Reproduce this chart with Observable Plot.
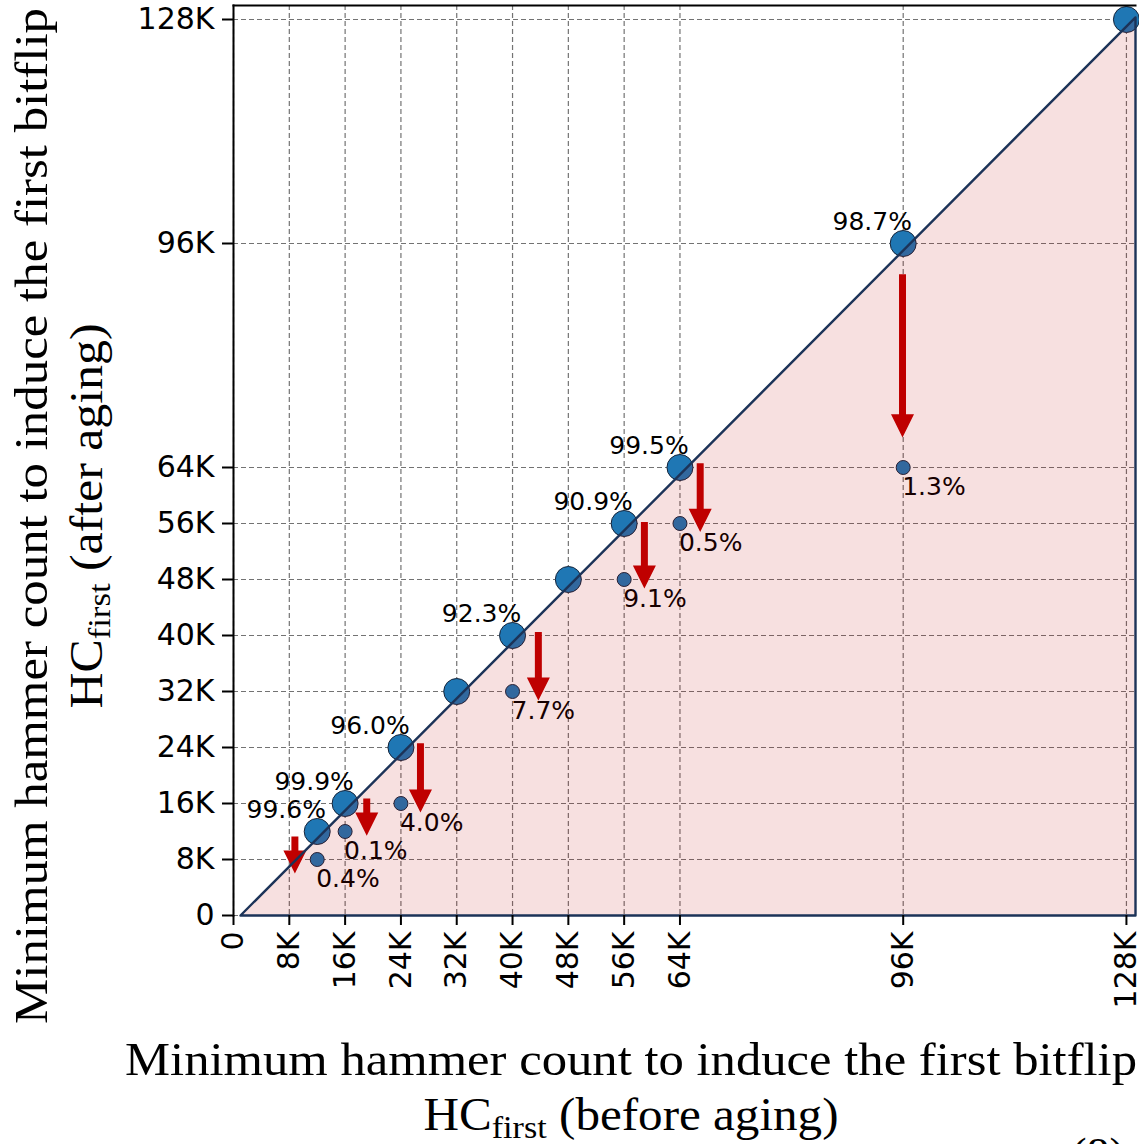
<!DOCTYPE html>
<html>
<head>
<meta charset="utf-8">
<script src="https://cdn.jsdelivr.net/npm/d3@7"></script>
<script src="https://cdn.jsdelivr.net/npm/@observablehq/plot@0.6"></script>
<style>
  html, body { margin: 0; padding: 0; background: white; overflow: hidden; }
  #chart { width: 1139px; height: 1144px; overflow: hidden; }
</style>
</head>
<body>
<div id="chart"></div>
<script>
// ---- data (values in K hammer counts) ----
const xTicks = [0, 8, 16, 24, 32, 40, 48, 56, 64, 96, 128];
const yTicks = [0, 8, 16, 24, 32, 40, 48, 56, 64, 96, 128];
const beforeHC = [12, 16, 24, 32, 40, 48, 56, 64, 96, 128];
const agingFrom = [12, 16, 24, 40, 56, 64, 96];
const agingTo = [8, 12, 16, 32, 48, 56, 64];
const keepPct = ["99.6%", "99.9%", "96.0%", "92.3%", "90.9%", "99.5%", "98.7%"];
const dropPct = ["0.4%", "0.1%", "4.0%", "7.7%", "9.1%", "0.5%", "1.3%"];
const arrowX = [8.8, 19.1, 26.8, 43.7, 58.9, 66.9, 95.9];
const arrowTop = [11.3, 16.7, 24.6, 40.5, 56.2, 64.6, 91.6];
const arrowTip = [6.0, 11.4, 14.7, 30.7, 46.7, 54.8, 68.3];

// arrow shape sizes (in K units)
const shaftHalf = 0.5, headHalf = 1.65, headLen = 3.3;
const arrowPts = [];
arrowX.forEach((x, i) => {
  const t = arrowTop[i], p = arrowTip[i], b = p + headLen;
  [[x - shaftHalf, t], [x + shaftHalf, t], [x + shaftHalf, b], [x + headHalf, b],
   [x, p], [x - headHalf, b], [x - shaftHalf, b]].forEach(([px, py]) =>
    arrowPts.push({id: i, x: px, y: py}));
});

const xMax = 129.3, yMax = 130;
const region = [{x: 1, y: 0}, {x: xMax, y: xMax - 1}, {x: xMax, y: 0}];
const fmt = d => d === 0 ? "0" : d + "K";
const idx = agingFrom.map((d, i) => i);

const chart = Plot.plot({
  width: 1139,
  height: 1144,
  marginLeft: 233,
  marginRight: 4,
  marginTop: 5,
  marginBottom: 229,
  style: {fontFamily: "DejaVu Sans", background: "white", color: "black"},
  x: {domain: [0, xMax], axis: null},
  y: {domain: [0, yMax], axis: null},
  marks: [
    Plot.gridX(xTicks, {stroke: "#737373", strokeOpacity: 1, strokeDasharray: "5,3", strokeWidth: 1.2}),
    Plot.gridY(yTicks, {stroke: "#737373", strokeOpacity: 1, strokeDasharray: "5,3", strokeWidth: 1.2}),
    Plot.line(arrowPts, {x: "x", y: "y", z: "id", fill: "#c00000", stroke: "none", curve: "linear-closed"}),
    Plot.dot(beforeHC, {x: d => d, y: d => d, r: 13, fill: "#1f77b4", stroke: "#16243a", strokeWidth: 1}),
    Plot.dot(idx, {x: i => agingFrom[i], y: i => agingTo[i], r: 7, fill: "#1f77b4", stroke: "#16243a", strokeWidth: 1}),
    Plot.text(idx, {x: i => agingFrom[i], y: i => agingFrom[i], text: i => keepPct[i], dx: -31, dy: -22, fontSize: 25, fill: "black"}),
    Plot.text(idx, {x: i => agingFrom[i], y: i => agingTo[i], text: i => dropPct[i], dx: -1, dy: 19, textAnchor: "start", fontSize: 25, fill: "black"}),
    Plot.line(region, {x: "x", y: "y", fill: "#c00000", fillOpacity: 0.12, stroke: "#1c3358", strokeWidth: 2.4, curve: "linear-closed"}),
    Plot.frame({stroke: "black", strokeWidth: 2, anchor: "left"}),
    Plot.frame({stroke: "black", strokeWidth: 2, anchor: "top"}),
    Plot.axisY(yTicks, {tickFormat: fmt, fontSize: 30, tickSize: 11, tickPadding: 8, strokeWidth: 2, label: null}),
    Plot.axisX(xTicks, {tickFormat: fmt, tickRotate: -90, fontSize: 30, tickSize: 10, tickPadding: 6, strokeWidth: 2, label: null})
  ]
});

document.getElementById("chart").appendChild(chart);

// ---- axis titles (real text) ----
const svg = d3.select(chart);
const serif = "'Liberation Serif', 'DejaVu Serif', serif";

function addTitle(g, line1, line2b, len1, len2) {
  g.append("text")
    .attr("text-anchor", "middle")
    .attr("font-family", serif).attr("font-size", 46)
    .attr("textLength", len1).attr("lengthAdjust", "spacingAndGlyphs")
    .attr("y", 0)
    .text(line1);
  const t = g.append("text")
    .attr("text-anchor", "middle")
    .attr("font-family", serif).attr("font-size", 46)
    .attr("textLength", len2).attr("lengthAdjust", "spacingAndGlyphs")
    .attr("y", 55);
  t.append("tspan").text("HC");
  t.append("tspan").attr("font-size", 32).attr("dy", 8).text("first");
  t.append("tspan").attr("dy", -8).text(line2b);
}

const gx = svg.append("g").attr("transform", "translate(631,1075)");
addTitle(gx, "Minimum hammer count to induce the first bitflip", " (before aging)", 1012, 415);

const gy = svg.append("g").attr("transform", "translate(47,516) rotate(-90)");
addTitle(gy, "Minimum hammer count to induce the first bitflip", " (after aging)", 1016, 385);

// cut-off caption fragment at bottom right
svg.append("text")
  .attr("x", 1098).attr("y", 1170)
  .attr("font-family", serif).attr("font-size", 46)
  .text("(8)");
</script>
</body>
</html>
